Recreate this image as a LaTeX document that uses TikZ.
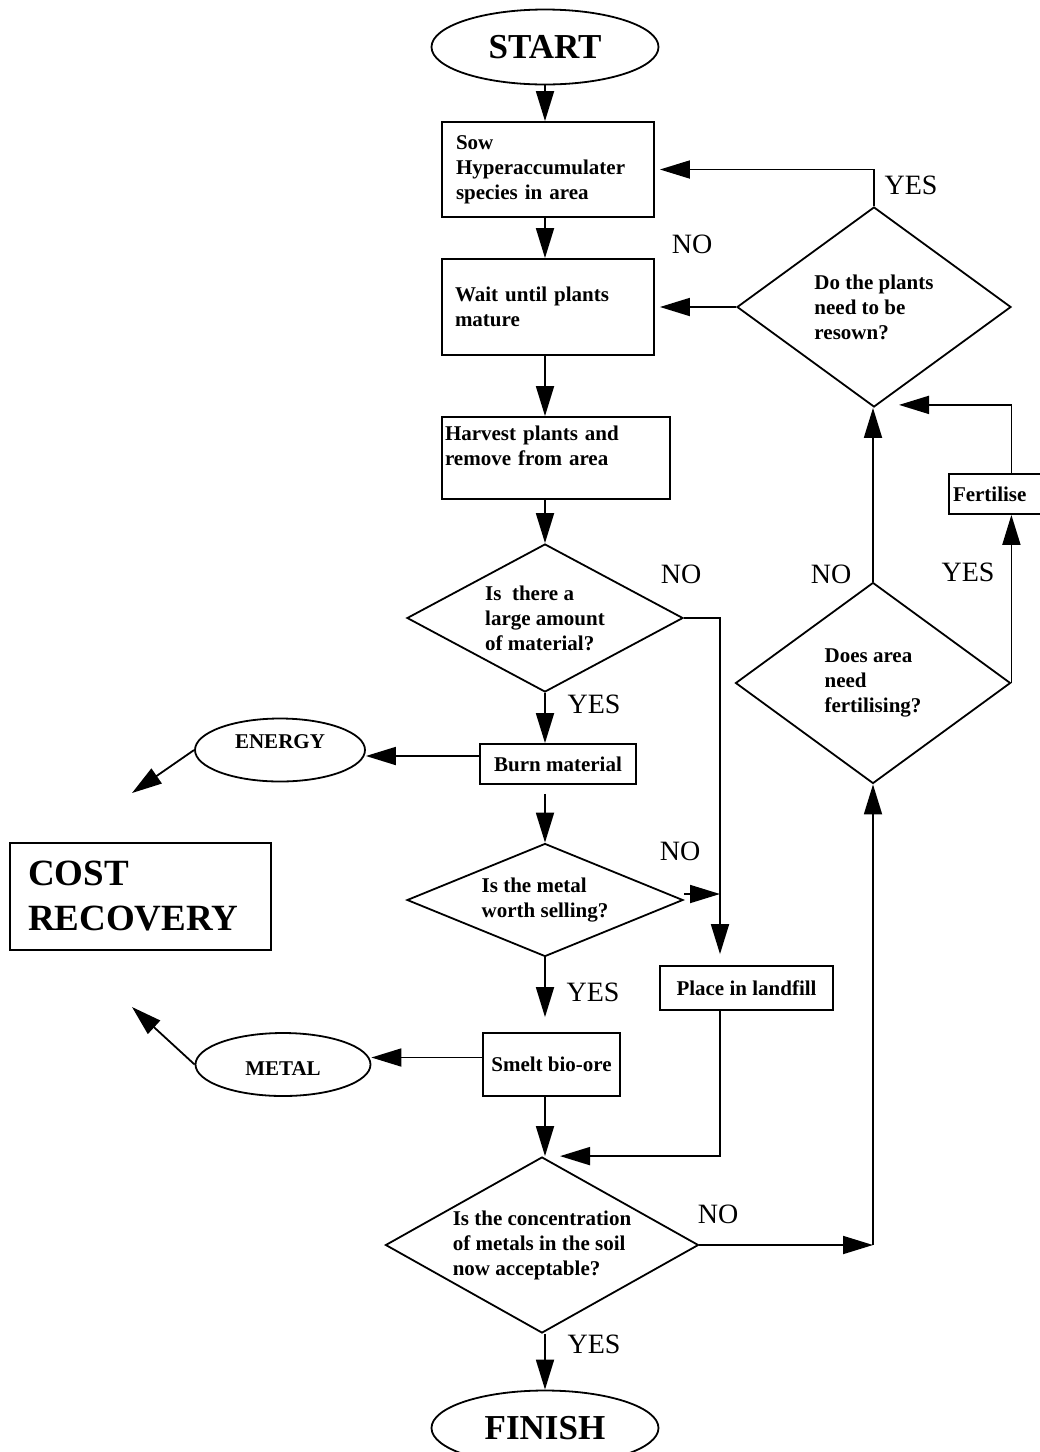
\documentclass[tikz,border=0pt]{standalone}
\usepackage{fontspec}
\setmainfont{Liberation Serif}
\usetikzlibrary{shapes.geometric, arrows.meta}

\begin{document}
\begin{tikzpicture}[x=1pt, y=-1pt, line width=1.8pt,
    box/.style={draw, rectangle, inner sep=0pt, font=\fontsize{21}{25}\selectfont\bfseries},
    dec/.style={draw, diamond, inner sep=0pt, align=left, font=\fontsize{21}{25}\selectfont\bfseries},
    oval/.style={draw, ellipse, inner sep=0pt, font=\fontsize{21}{25}\selectfont\bfseries},
    ans/.style={inner sep=0pt, font=\fontsize{28}{30}\selectfont},
    arr/.style={-{Triangle[length=30pt, width=18pt]}}]
\useasboundingbox (0,0) rectangle (1040,1452);
\clip (0,0) rectangle (1040,1452);

\node[oval, minimum width=227pt, minimum height=75pt, font=\fontsize{35}{38}\selectfont\bfseries] (start) at (545,47) {START};
\node[box, minimum width=212pt, minimum height=95pt, text width=184pt, align=left] (sow) at (548,169.5) {Sow\\Hyperaccumulater\\species in area};
\node[box, minimum width=212pt, minimum height=96pt, text width=186pt, align=left] (wait) at (548,307) {Wait until plants\\mature};
\node[box, minimum width=228pt, minimum height=82pt, text width=222pt, align=left] (harv) at (556,458) {Harvest plants and\\remove from area\\ \mbox{}};

\node[dec, minimum width=276pt, minimum height=148pt, shape aspect=1.86] (d1) at (545,618) {Is\ \ there a\\large amount\\of material?};
\node[box, minimum width=156pt, minimum height=40pt] (burn) at (558,764) {Burn material};
\node[oval, minimum width=170pt, minimum height=63pt, text depth=16pt] (energy) at (280,750) {ENERGY};
\node[box, minimum width=261pt, minimum height=107pt, text width=225pt, align=left, font=\fontsize{37}{45}\selectfont\bfseries] (cost) at (140.5,896.5) {COST\\RECOVERY};

\node[dec, minimum width=276pt, minimum height=113pt, shape aspect=2.44] (d2) at (545,900) {Is the metal\\worth selling?};
\node[box, minimum width=173pt, minimum height=44pt] (fill) at (746.5,988) {Place in landfill};
\node[box, minimum width=137pt, minimum height=63pt] (smelt) at (551.5,1064.5) {Smelt bio-ore};
\node[oval, minimum width=175pt, minimum height=63pt, text height=22pt] (metal) at (283,1064.5) {METAL};

\node[dec, minimum width=313pt, minimum height=176pt, shape aspect=1.78] (d3) at (542,1245) {Is the concentration\\of metals in the soil\\now acceptable?};
\node[oval, minimum width=227pt, minimum height=75pt, font=\fontsize{35}{38}\selectfont\bfseries] (finish) at (545,1428) {FINISH};

\node[dec, minimum width=275pt, minimum height=201pt, shape aspect=1.37] (d4) at (873,683) {Does area\\need\\fertilising?};
\node[box, minimum width=108pt, minimum height=40pt, text width=100pt, align=left] (fert) at (1003,494) {Fertilise};
\node[dec, minimum width=274pt, minimum height=200pt, shape aspect=1.37] (d5) at (874,307) {Do the plants\\need to be\\resown?};

\coordinate (j1) at (720,618);
\coordinate (j2) at (873,1245);
\coordinate (e1) at (132,793);
\coordinate (m1) at (132,1007);

\node[ans] (y5) at (911,185) {YES};
\node[ans] (n5) at (692,244) {NO};
\node[ans] (n1) at (681,574) {NO};
\node[ans] (y1) at (594,704) {YES};
\node[ans] (n4) at (831,574) {NO};
\node[ans] (y4) at (968,572) {YES};
\node[ans] (n2) at (680,851) {NO};
\node[ans] (y2) at (593,992) {YES};
\node[ans] (n3) at (718,1214) {NO};
\node[ans] (y3) at (594,1344) {YES};

\draw[arr] (start.south) -- (start.south |- sow.north);
\draw[arr] (sow.south -| start) -- (wait.north -| start);
\draw[arr] (wait.south -| start) -- (harv.north -| start);
\draw[arr] (harv.south -| d1) -- (d1.north);

\draw[arr] (d1.south) -- (d1.south |- burn.north);
\draw[arr, shorten >=11pt] (d1.east) -- (j1) -- (j1 |- fill.north);
\draw[arr] ([yshift=8pt]burn.west) -- ([yshift=8pt]burn.west -| energy.east);
\draw[arr] (energy.west) -- (e1);
\draw[arr, shorten <=9pt] (burn.south -| d2) -- (d2.north);

\draw[arr] ([yshift=6pt]d2.east) -- ([yshift=6pt]d2.east -| j1);
\draw[arr, shorten >=15pt] (d2.south) -- (d2.south |- smelt.north);
\draw[arr] ([yshift=7pt]smelt.west) -- ([yshift=7pt]smelt.west -| metal.east);
\draw[arr] (metal.west) -- (m1);
\draw[arr] (smelt.south -| d2) -- (d3.north -| d2);
\draw[arr] (fill.south -| j1) |- ([xshift=18pt]d3.north);

\draw[arr] (d3.east) -- (j2);
\draw[arr] (j2) -- (d4.south);
\draw[arr] (d3.south -| d2) -- (finish.north -| d2);

\draw[arr] (d4.north) -- (d4.north |- d5.south);
\draw[arr] (d4.east) -- (d4.east |- fert.south);
\draw[arr] (fert.north -| d4.east) |- ([xshift=25pt, yshift=3pt]d5.south);
\draw[arr, shorten >=5pt] (d5.north) |- (sow.east);
\draw[arr, shorten >=5pt] (d5.west) -- (wait.east);
\end{tikzpicture}
\end{document}
